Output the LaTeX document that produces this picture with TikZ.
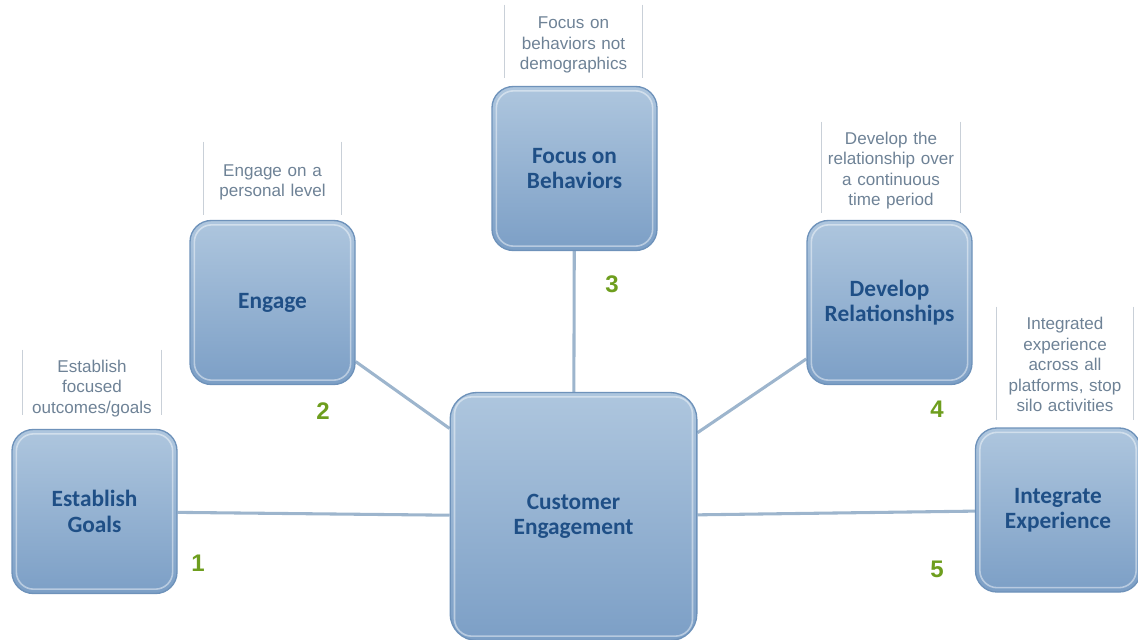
\documentclass[tikz,border=0pt]{standalone}
\usepackage{fontspec}
\setmainfont{Liberation Sans}
\newfontfamily\boxfont{Carlito}
\usetikzlibrary{backgrounds}
\definecolor{boxtop}{HTML}{AEC6DE}
\definecolor{boxbot}{HTML}{7C9FC6}
\definecolor{boxedge}{HTML}{6E92BA}
\definecolor{boxtext}{HTML}{1F4F86}
\definecolor{graytext}{HTML}{6E8296}
\definecolor{bracketc}{HTML}{C9D0D8}
\definecolor{linkc}{HTML}{9DB5CD}
\definecolor{numc}{HTML}{6E9E1E}
\tikzset{
  sbox/.style={draw=boxedge, line width=1pt, rounded corners=16pt,
    top color=boxtop, bottom color=boxbot, align=center,
    minimum width=123.75pt, minimum height=123pt, inner sep=0pt,
    text=boxtext, font=\boxfont\bfseries\fontsize{17.5}{19}\selectfont},
  bigbox/.style={sbox, minimum width=185pt, minimum height=186pt, rounded corners=20pt},
  lab/.style={text width=103.5pt, inner sep=0pt, align=center, text=graytext,
    font=\fontsize{12.8}{15.3}\selectfont},
  bracket/.style={draw=bracketc, line width=0.9pt},
  link/.style={draw=linkc, line width=2.3pt},
  num/.style={text=numc, font=\bfseries\fontsize{18}{18}\selectfont, inner sep=0pt},
  glow/.style={draw=white, draw opacity=0.45, line width=1.2pt}
}
\begin{document}
\begin{tikzpicture}[x=0.75pt,y=-0.75pt]
\useasboundingbox (0,0) rectangle (1138,639);
% boxes
\node[sbox] (goal) at (94.5,511.5) {Establish\\Goals};
\node[sbox] (eng) at (272.5,302.5) {Engage};
\node[sbox] (foc) at (574.5,168.5) {Focus on\\Behaviors};
\node[sbox] (dev) at (889.5,302.5) {Develop\\Relationships};
\node[sbox] (int) at (1058,510) {Integrate\\Experience};
\node[bigbox] (ce) at (573.5,516.5) {Customer\\Engagement};
% inner highlights
\foreach \n in {goal,eng,foc,dev,int,ce}{
  \draw[glow, rounded corners=13pt] ([shift={(5,-5)}]\n.south west) rectangle ([shift={(-5,5)}]\n.north east);
}
% connectors
\begin{scope}[on background layer]
\draw[link] (goal) -- (ce);
\draw[link] (eng) -- (ce);
\draw[link] (foc) -- (ce);
\draw[link] (dev) -- (ce);
\draw[link] (int) -- (ce);
\end{scope}
% labels with brackets (text shifted down by \d, brackets shifted back)
\node[lab, minimum height=48.75pt] (l1) at (92,388.5) {Establish\\focused\\outcomes/goals};
\node[lab, minimum height=54.75pt] (l2) at (272.5,182.5) {Engage on a\\personal level};
\node[lab, minimum height=54.75pt] (l3) at (573.5,45) {Focus on\\behaviors not\\demographics};
\node[lab, minimum height=68.25pt] (l4) at (891,170.5) {Develop the\\relationship over\\a continuous\\time period};
\node[lab, minimum height=84.75pt, text width=102pt] (l5) at (1065,364.5) {Integrated\\experience\\across all\\platforms, stop\\silo activities};
\foreach \l/\d in {l1/6,l2/4,l3/3.5,l4/3,l5/1}{
  \draw[bracket] ([shift={(0,-\d)}]\l.north west) -- ([shift={(0,-\d)}]\l.south west)
                 ([shift={(0,-\d)}]\l.north east) -- ([shift={(0,-\d)}]\l.south east);
}
% numbers
\node[num] (n1) at (198,563) {1};
\node[num] (n2) at (323,411) {2};
\node[num] (n3) at (612,284) {3};
\node[num] (n4) at (937,409) {4};
\node[num] (n5) at (937,569) {5};
\end{tikzpicture}
\end{document}
